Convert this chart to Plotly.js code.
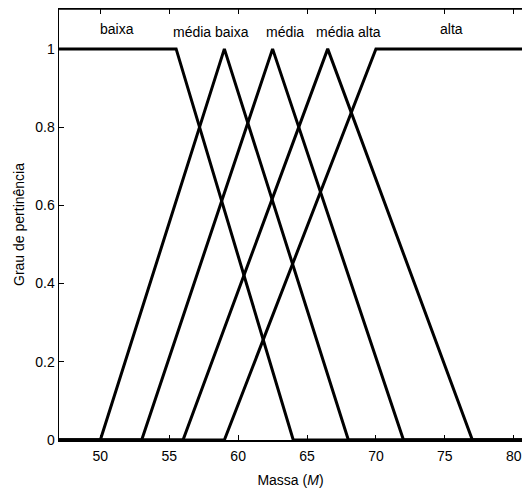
<!DOCTYPE html>
<html>
<head>
<meta charset="utf-8">
<script src="https://cdn.plot.ly/plotly-3.0.1.min.js"></script>
<style>html,body{margin:0;padding:0;background:#fff;}</style>
</head>
<body>
<div id="chart" style="width:522px;height:491px;"></div>
<script>
// Membership functions (x breakpoints, y values)
const seriesNames = ["baixa", "média baixa", "média", "média alta", "alta"];
const baixaX = [47, 55.5, 64, 80.6];
const baixaY = [1, 1, 0, 0];
const mediaBaixaX = [47, 50, 59, 68, 80.6];
const mediaBaixaY = [0, 0, 1, 0, 0];
const mediaX = [47, 53, 62.5, 72, 80.6];
const mediaY = [0, 0, 1, 0, 0];
const mediaAltaX = [47, 56, 66.5, 77, 80.6];
const mediaAltaY = [0, 0, 1, 0, 0];
const altaX = [47, 59, 70, 80.6];
const altaY = [0, 0, 1, 1];

const labelX = [51.2, 58.0, 63.4, 68.0, 75.5];
const labelY = [1.052, 1.042, 1.042, 1.042, 1.052];

const xTicks = [50, 55, 60, 65, 70, 75, 80];
const yTicks = [0, 0.2, 0.4, 0.6, 0.8, 1];
const yTickText = ["0", "0.2", "0.4", "0.6", "0.8", "1"];

const xs = [baixaX, mediaBaixaX, mediaX, mediaAltaX, altaX];
const ys = [baixaY, mediaBaixaY, mediaY, mediaAltaY, altaY];

const traces = xs.map((x, i) => ({
  x: x, y: ys[i], type: "scatter", mode: "lines", name: seriesNames[i],
  line: {color: "#000", width: 3}, cliponaxis: false, showlegend: false
}));

const font = {family: "Liberation Sans, Arial, sans-serif", size: 14, color: "#000"};

const layout = {
  width: 522, height: 491,
  margin: {l: 59, r: 0, t: 9, b: 51},
  paper_bgcolor: "#fff", plot_bgcolor: "#fff",
  font: font,
  showlegend: false,
  xaxis: {
    range: [47, 80.6], tickvals: xTicks, ticktext: xTicks.map(String),
    ticks: "inside", ticklen: 5, tickwidth: 1, tickcolor: "#000",
    showline: true, linecolor: "#000", linewidth: 1.5, mirror: "ticks",
    showgrid: false, zeroline: false, ticklabelstandoff: 3,
    tickfont: font,
    title: {text: "Massa (<i>M</i>)", font: font, standoff: 12}
  },
  yaxis: {
    range: [0, 1.102], tickvals: yTicks, ticktext: yTickText,
    ticks: "inside", ticklen: 5, tickwidth: 1, tickcolor: "#000",
    showline: true, linecolor: "#000", linewidth: 1.5, mirror: false,
    showgrid: false, zeroline: false,
    tickfont: font,
    title: {text: "Grau de pertinência", font: font, standoff: 7}
  },
  shapes: [{type: "line", xref: "paper", yref: "paper", x0: 0, x1: 1, y0: 1, y1: 1,
            line: {color: "#000", width: 1.5}}],
  annotations: seriesNames.map((n, i) => ({
    x: labelX[i], y: labelY[i], xref: "x", yref: "y", text: n,
    showarrow: false, font: font, xanchor: "center", yanchor: "middle"
  }))
};

Plotly.newPlot("chart", traces, layout, {displayModeBar: false, staticPlot: true});
</script>
</body>
</html>
